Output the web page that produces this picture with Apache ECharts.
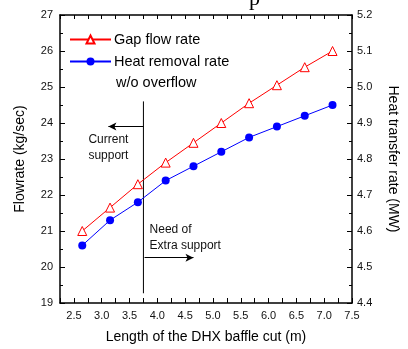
<!DOCTYPE html>
<html>
<head>
<meta charset="utf-8">
<script src="https://cdn.jsdelivr.net/npm/echarts@6/dist/echarts.min.js"></script>
<style>html,body{margin:0;padding:0;background:#fff;}#c{width:408px;height:349px;}</style>
</head>
<body>
<div id="c"></div>
<script>
var baffleCut = [2.65, 3.15, 3.65, 4.15, 4.65, 5.15, 5.65, 6.15, 6.65, 7.15];
var gapFlow = [21.0, 21.65, 22.3, 22.9, 23.45, 24.0, 24.55, 25.05, 25.55, 26.0];
var heatRemoval = [4.56, 4.63, 4.68, 4.74, 4.78, 4.82, 4.86, 4.89, 4.92, 4.95];
var seriesNames = ['Gap flow rate', 'Heat removal rate'];
var supportLine = [[3.75, 24.6], [3.75, 19.27]];
var currentArrow = [[3.75, 23.9], [3.12, 23.9]];
var extraArrow = [[3.77, 20.26], [4.65, 20.26]];
var currentText = {x: 3.12, y: 23.31, text: 'Current\nsupport'};
var extraText = {x: 3.86, y: 20.81, text: 'Need of\nExtra support'};

var FONT = 'Liberation Sans, Arial, sans-serif';
var chart = echarts.init(document.getElementById('c'), null, {renderer: 'canvas'});

function zip(xs, ys) { return xs.map(function (x, i) { return [x, ys[i]]; }); }

var axisLine = {show: true, onZero: false, lineStyle: {color: '#000', width: 1.5}};
var option = {
  animation: false,
  backgroundColor: '#fff',
  grid: {left: 60, right: 47, top: 15, bottom: 46, containLabel: false},
  legend: {
    orient: 'vertical', left: 64, top: 27, itemWidth: 41, itemHeight: 10, itemGap: 7,
    data: seriesNames,
    textStyle: {fontFamily: FONT, fontSize: 14.5, color: '#000', padding: [0, 0, 0, -2]}
  },
  xAxis: [{
    type: 'value', min: 2.25, max: 7.5, interval: 0.25,
    name: 'Length of the DHX baffle cut (m)', nameLocation: 'middle', nameGap: 27,
    nameTextStyle: {fontFamily: FONT, fontSize: 14, color: '#000'},
    axisLine: axisLine,
    axisTick: {show: true, inside: true, length: 5, lineStyle: {color: '#000', width: 1}},
    axisLabel: {fontFamily: FONT, fontSize: 11, color: '#111', margin: 7,
      formatter: function (v) { return (Math.abs(v * 2 - Math.round(v * 2)) < 1e-6) ? v.toFixed(1) : ''; }},
    splitLine: {show: false}
  }, {
    type: 'value', position: 'top', min: 2.25, max: 7.5, interval: 0.25,
    axisLine: axisLine,
    axisTick: {show: true, inside: true, length: 4, lineStyle: {color: '#000', width: 1}},
    axisLabel: {show: false}, splitLine: {show: false}
  }],
  yAxis: [{
    type: 'value', min: 19, max: 27, interval: 1,
    name: 'Flowrate (kg/sec)', nameLocation: 'middle', nameGap: 33,
    nameTextStyle: {fontFamily: FONT, fontSize: 14, color: '#000'},
    axisLine: axisLine,
    axisTick: {show: true, inside: true, length: 5, lineStyle: {color: '#000', width: 1}},
    minorTick: {show: true, splitNumber: 2, length: 3, lineStyle: {color: '#000', width: 1}},
    axisLabel: {fontFamily: FONT, fontSize: 11, color: '#111', margin: 7},
    splitLine: {show: false}
  }, {
    type: 'value', position: 'right', min: 4.4, max: 5.2, interval: 0.1,
    name: 'Heat transfer rate (MW)', nameLocation: 'middle', nameGap: 34, nameRotate: -90,
    nameTextStyle: {fontFamily: FONT, fontSize: 14, color: '#000'},
    axisLine: axisLine,
    axisTick: {show: true, inside: true, length: 5, lineStyle: {color: '#000', width: 1}},
    minorTick: {show: true, splitNumber: 2, length: 3, lineStyle: {color: '#000', width: 1}},
    axisLabel: {fontFamily: FONT, fontSize: 11, color: '#111', margin: 5,
      formatter: function (v) { return v.toFixed(1); }},
    splitLine: {show: false}
  }],
  series: [{
    name: seriesNames[0], type: 'line', xAxisIndex: 0, yAxisIndex: 0,
    data: zip(baffleCut, gapFlow),
    symbol: 'triangle', symbolSize: 9,
    lineStyle: {color: '#ff0000', width: 1},
    itemStyle: {color: '#fff', borderColor: '#ff0000', borderWidth: 1},
    color: '#ff0000',
    z: 3
  }, {
    name: seriesNames[1], type: 'line', xAxisIndex: 0, yAxisIndex: 1,
    data: zip(baffleCut, heatRemoval),
    symbol: 'circle', symbolSize: 8,
    lineStyle: {color: '#0000ff', width: 1},
    itemStyle: {color: '#0000ff'},
    color: '#0000ff',
    z: 3
  }, {
    name: 'support', type: 'line', xAxisIndex: 0, yAxisIndex: 0,
    data: supportLine, showSymbol: false, symbol: 'none', silent: true,
    lineStyle: {color: '#000', width: 1}, itemStyle: {color: '#000'}, z: 2,
    markLine: {
      silent: true, animation: false,
      symbol: ['none', 'arrow'], symbolSize: [6, 8],
      label: {show: false},
      lineStyle: {color: '#000', width: 1, type: 'solid'},
      data: [
        [{coord: currentArrow[0]}, {coord: currentArrow[1]}],
        [{coord: extraArrow[0]}, {coord: extraArrow[1]}]
      ]
    }
  }]
};
chart.setOption(option);

var p1 = chart.convertToPixel({xAxisIndex: 0, yAxisIndex: 0}, [currentText.x, currentText.y]);
var p2 = chart.convertToPixel({xAxisIndex: 0, yAxisIndex: 0}, [extraText.x, extraText.y]);
chart.setOption({
  graphic: [
    {type: 'text', x: p1[0], y: p1[1], silent: true,
      style: {text: currentText.text, font: '12px ' + FONT, fill: '#111', align: 'center', verticalAlign: 'middle', lineHeight: 16}},
    {type: 'text', x: p2[0], y: p2[1], silent: true,
      style: {text: extraText.text, font: '12px ' + FONT, fill: '#111', align: 'left', verticalAlign: 'middle', lineHeight: 16}},
    {type: 'text', x: 116, y: 75, silent: true,
      style: {text: 'w/o overflow', font: '14.5px ' + FONT, fill: '#000', align: 'left', verticalAlign: 'top'}},
    {type: 'text', x: 249, y: -12, silent: true,
      style: {text: 'p', font: '22px Liberation Serif, Times New Roman, serif', fill: '#000', align: 'left', verticalAlign: 'top'}}
  ]
});
</script>
</body>
</html>
